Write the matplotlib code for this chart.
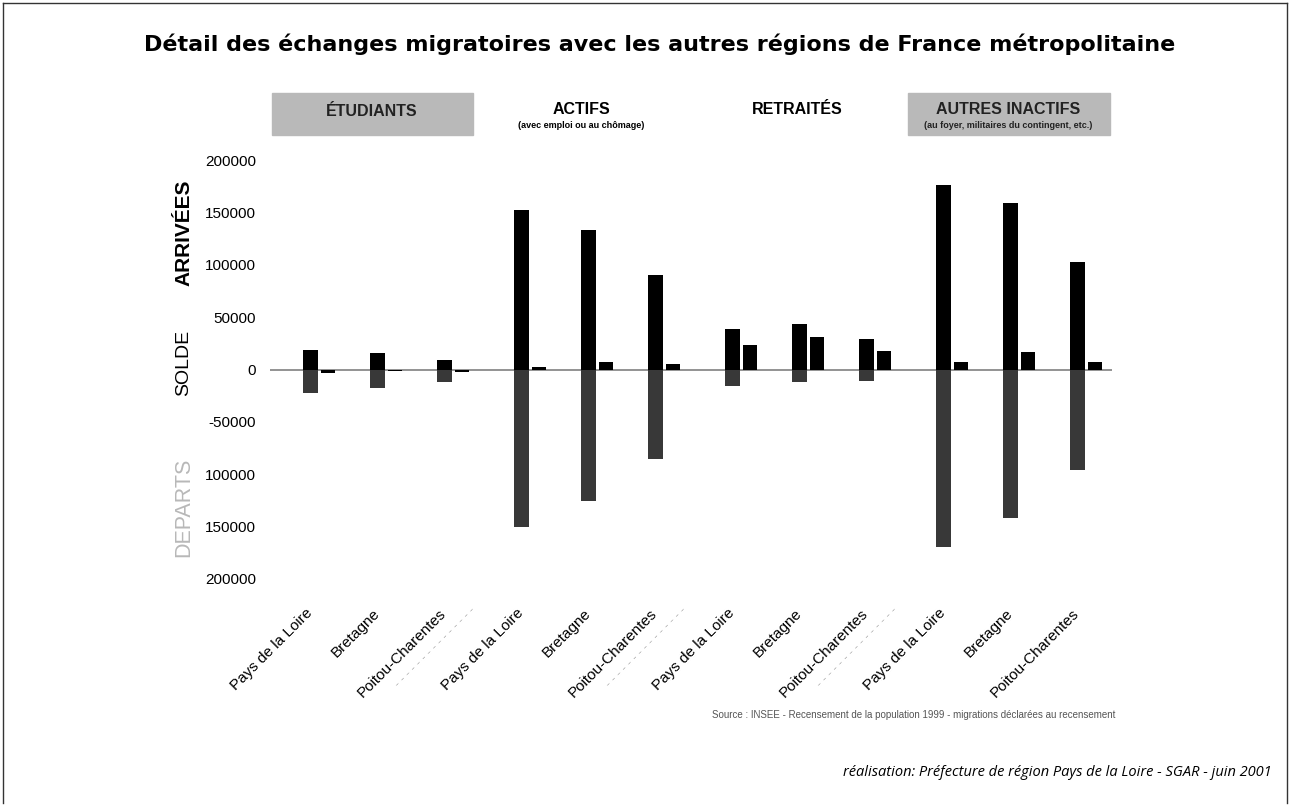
import numpy as np
import matplotlib
matplotlib.use('Agg')
from matplotlib import pyplot as plt
from matplotlib.patches import Rectangle
from matplotlib.lines import Line2D

plt.rcParams['font.family'] = ['Liberation Sans', 'DejaVu Sans']

# Data (migrations with other regions, 1999 census)
groups = ['ÉTUDIANTS', 'ACTIFS', 'RETRAITÉS', 'AUTRES INACTIFS']
regions = ['Pays de la Loire', 'Bretagne', 'Poitou-Charentes']

arrivees = [19000, 16000, 9500,
            152000, 133000, 90000,
            39000, 43000, 29000,
            176000, 159000, 103000]
departs = [22000, 17500, 12000,
           150000, 126000, 85000,
           16000, 11500, 11000,
           169000, 142000, 96000]
solde = [-3000, -1500, -2500,
         2000, 7000, 5000,
         23000, 31500, 18000,
         7000, 17000, 7000]

yticks = [200000, 150000, 100000, 50000, 0, -50000, -100000, -150000, -200000]
ytick_labels = ['200000', '150000', '100000', '50000', '0', '-50000', '100000', '150000', '200000']

# x positions: 3 regions per group, a small gap between groups
group_step = 3.15
pos = np.array([g * group_step + i for g in range(len(groups)) for i in range(len(regions))])
sep_pos = [g * group_step + 2.55 for g in range(len(groups) - 1)]

fig = plt.figure(figsize=(12.93, 8.06), dpi=100)
W, H = 1293, 806
ax = fig.add_axes([270 / W, 1 - 579 / H, (1112 - 270) / W, (579 - 160) / H])

ax.axhline(0, color='#8a8a8a', lw=1.3, zorder=1)
ax.bar(pos, arrivees, width=0.22, color='black', zorder=2)
ax.bar(pos, [-d for d in departs], width=0.22, color='#383838', zorder=2)
ax.bar(pos + 0.27, solde, width=0.21, color='black', zorder=2)

ax.set_xlim(-0.6, 11.97)
ax.set_ylim(-200000, 200000)
ax.set_yticks(yticks)
ax.set_yticklabels(ytick_labels, fontsize=11)
ax.tick_params(axis='y', length=0, pad=10)

# x tick labels: regions plus faint diagonal separators
ticks = list(pos) + sep_pos
labels = regions * len(groups) + ['- ' * 15] * len(sep_pos)
ax.set_xticks(ticks)
ax.set_xticklabels(labels, rotation=45, ha='right', va='center', rotation_mode='anchor', fontsize=11)
for lab in ax.get_xticklabels()[len(pos):]:
    lab.set_color('#b0b0b0')
    lab.set_fontsize(9)
    lab.set_verticalalignment('bottom')
ax.tick_params(axis='x', length=0, pad=23)

for s in ax.spines.values():
    s.set_visible(False)

# side labels
fig.text(184 / W, 1 - 233 / H, 'ARRIVÉES', rotation=90, ha='center', va='center',
         fontsize=15, fontweight='bold')
fig.text(184 / W, 1 - 363 / H, 'SOLDE', rotation=90, ha='center', va='center', fontsize=14)
fig.text(184 / W, 1 - 507 / H, 'DEPARTS', rotation=90, ha='center', va='center',
         fontsize=15.5, color='#b8b8b8')

# title
fig.text(660 / W, 1 - 44 / H, 'Détail des échanges migratoires avec les autres régions de France métropolitaine',
         ha='center', va='center', fontsize=16, fontweight='bold', family='DejaVu Sans')

# group headers
for x0, x1 in [(272, 473), (908, 1110)]:
    fig.patches.append(Rectangle((x0 / W, 1 - 135 / H), (x1 - x0) / W, 42 / H,
                                 transform=fig.transFigure, color='#b9b9b9', zorder=0))
fig.text(372 / W, 1 - 112 / H, 'ÉTUDIANTS', ha='center', va='center', fontsize=11.5,
         fontweight='bold', color='#222222')
fig.text(581 / W, 1 - 110 / H, 'ACTIFS', ha='center', va='center', fontsize=11.5, fontweight='bold')
fig.text(581 / W, 1 - 126 / H, '(avec emploi ou au chômage)', ha='center', va='center',
         fontsize=6.5, fontweight='bold')
fig.text(797 / W, 1 - 110 / H, 'RETRAITÉS', ha='center', va='center', fontsize=11.5, fontweight='bold')
fig.text(1008 / W, 1 - 110 / H, 'AUTRES INACTIFS', ha='center', va='center', fontsize=11.5,
         fontweight='bold', color='#222222')
fig.text(1008 / W, 1 - 126 / H, '(au foyer, militaires du contingent, etc.)', ha='center', va='center',
         fontsize=6.5, fontweight='bold', color='#222222')

# notes
fig.text(914 / W, 1 - 715 / H,
         'Source : INSEE - Recensement de la population 1999 - migrations déclarées au recensement',
         ha='center', va='center', fontsize=7, color='#555555')
fig.text(1272 / W, 1 - 772 / H, 'réalisation: Préfecture de région Pays de la Loire - SGAR - juin 2001',
         ha='right', va='center', fontsize=10.5, style='italic', family='Open Sans')

# page frame
for xs, ys in [([3, 3], [3, 803]), ([3, 1287], [3, 3]), ([1287, 1287], [3, 803])]:
    fig.lines.append(Line2D([x / W for x in xs], [1 - y / H for y in ys],
                            transform=fig.transFigure, color='#333333', lw=1))

fig.savefig('out.png', dpi=100)
